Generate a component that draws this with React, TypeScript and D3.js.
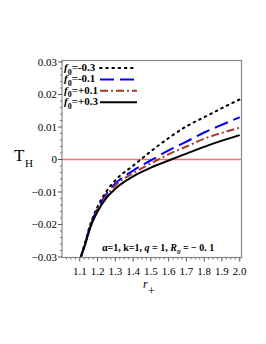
import React from 'react';
import * as d3 from 'd3';

// r+ sample points
const rPlus = [1.1, 1.13, 1.16, 1.2, 1.25, 1.3, 1.4, 1.5, 1.6, 1.7, 1.8, 1.9, 2.0];

// T_H values for each f0
const tMinus03 = [-0.031, -0.0255, -0.0198, -0.0145, -0.0098, -0.0064, -0.0019, 0.0025, 0.0066, 0.0102, 0.013, 0.0158, 0.0185];
const tMinus01 = [-0.031, -0.0258, -0.0202, -0.0152, -0.0106, -0.0074, -0.0034, -0.0003, 0.0028, 0.0055, 0.0083, 0.0107, 0.013];
const tPlus01 = [-0.031, -0.026, -0.0205, -0.0156, -0.0112, -0.008, -0.0042, -0.0012, 0.0016, 0.004, 0.0064, 0.0082, 0.0098];
const tPlus03 = [-0.031, -0.0262, -0.0208, -0.016, -0.0118, -0.009, -0.0052, -0.0025, -0.0003, 0.0018, 0.0039, 0.0058, 0.0075];

const legendLabels = ['=-0.3', '=-0.1', '=+0.1', '=+0.3'];
const xTicks = [1.1, 1.2, 1.3, 1.4, 1.5, 1.6, 1.7, 1.8, 1.9, 2.0];
const yTicks = [-0.03, -0.02, -0.01, 0, 0.01, 0.02, 0.03];

const series = [
  { values: tMinus03, color: '#000000', dash: '1.6 4.6', cap: 'round' },
  { values: tMinus01, color: '#0000ff', dash: '14 6', cap: 'butt' },
  { values: tPlus01, color: '#a33a2a', dash: '8 3 2 3', cap: 'butt' },
  { values: tPlus03, color: '#000000', dash: null, cap: 'butt' },
];

const left = 62, right = 241.5, top = 60.5, bottom = 257.5;

export default function App() {
  const x = d3.scaleLinear().domain([1, 2.01]).range([left, right]);
  const y = d3.scaleLinear().domain([-0.03, 0.03]).range([bottom - 0.5, top + 1.5]);

  const line = d3.line<number>()
    .x((_, i) => x(rPlus[i]))
    .y(d => y(d))
    .curve(d3.curveMonotoneX);

  const xMinor = d3.range(1.025, 2.01, 0.025).filter(v => Math.abs(v * 10 - Math.round(v * 10)) > 0.01);
  const yMinor = d3.range(-0.03, 0.0301, 0.002).filter(v => Math.abs(v * 100 - Math.round(v * 100)) > 0.01);

  const fmtY = (v: number) => (v === 0 ? '0' : (v < 0 ? '\u22120' : '0') + d3.format('.2f')(Math.abs(v)).slice(1));

  return (
    <svg width={266} height={344} style={{ position: 'absolute', left: 0, top: 0, background: '#fff' }}
      fontFamily="'Liberation Serif', 'Times New Roman', serif">
      <defs>
        <clipPath id="plot">
          <rect x={left} y={top} width={right - left} height={bottom - top} />
        </clipPath>
      </defs>

      {/* zero line */}
      <line x1={left} x2={right} y1={y(0)} y2={y(0)} stroke="#ff6e6e" strokeWidth={1.4} />

      {/* curves */}
      <g clipPath="url(#plot)">
        {series.map((s, i) => (
          <path key={i} d={line(s.values) || ''} fill="none" stroke={s.color} strokeWidth={2}
            strokeDasharray={s.dash || undefined} strokeLinecap={s.cap as any} />
        ))}
      </g>

      {/* frame */}
      <rect x={left} y={top} width={right - left} height={bottom - top} fill="none" stroke="#888" strokeWidth={1.2} />

      {/* y axis */}
      {yTicks.map(t => (
        <g key={t}>
          <line x1={left - 4} x2={left} y1={y(t)} y2={y(t)} stroke="#555" />
          <text x={left - 5} y={y(t)} dy="0.35em" textAnchor="end" fontSize={11}>{fmtY(t)}</text>
        </g>
      ))}
      {yMinor.map(t => (
        <line key={t} x1={left - 2} x2={left} y1={y(t)} y2={y(t)} stroke="#777" />
      ))}

      {/* x axis */}
      {xTicks.map(t => (
        <g key={t}>
          <line x1={x(t)} x2={x(t)} y1={bottom} y2={bottom + 4} stroke="#555" />
          <text x={x(t)} y={bottom + 17} textAnchor="middle" fontSize={11}>{t.toFixed(1)}</text>
        </g>
      ))}
      {xMinor.map(t => (
        <line key={t} x1={x(t)} x2={x(t)} y1={bottom} y2={bottom + 2} stroke="#777" />
      ))}

      {/* axis titles */}
      <text x={14} y={161} fontSize={17}>T</text>
      <text x={25} y={167} fontSize={11}>H</text>
      <text x={143} y={288} fontSize={12} fontStyle="italic">r</text>
      <text x={148} y={295} fontSize={12}>+</text>

      {/* legend */}
      {series.map((s, i) => {
        const ly = 68 + i * 11.4;
        return (
          <g key={i}>
            <text x={64} y={ly + 3} fontSize={11} fontWeight="bold">
              <tspan fontStyle="italic">f</tspan>
              <tspan fontSize={8} dy={3.5}>0</tspan>
              <tspan dy={-3.5}>{legendLabels[i]}</tspan>
            </text>
            <line x1={100} x2={137} y1={ly} y2={ly} stroke={s.color} strokeWidth={2}
              strokeDasharray={s.dash || undefined} strokeLinecap={s.cap as any} />
          </g>
        );
      })}

      {/* parameters */}
      <text x={102} y={251} fontSize={10} fontWeight="bold">
        {'\u03b1=1, k=1, '}
        <tspan fontStyle="italic">q</tspan>
        {' = 1, '}
        <tspan fontStyle="italic">R</tspan>
        <tspan fontStyle="italic" fontSize={7} dy={2.5}>0</tspan>
        <tspan dy={-2.5}>{' = \u2212 0. 1'}</tspan>
      </text>
    </svg>
  );
}
